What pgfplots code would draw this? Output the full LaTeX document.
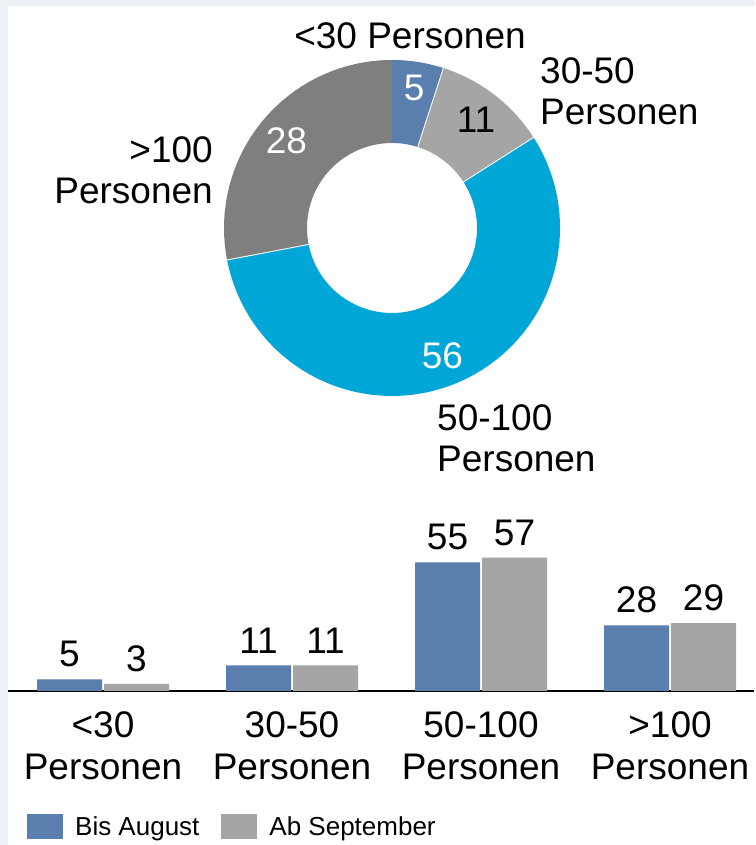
\documentclass[border=0pt]{standalone}
\usepackage{fontspec}
\setmainfont{Liberation Sans}
\usepackage{pgfplots}
\usepackage{pgfplotstable}
\pgfplotsset{compat=1.18}
\definecolor{bgframe}{HTML}{EDF0F5}
\definecolor{cblue}{HTML}{5A7FAE}
\definecolor{cgray}{HTML}{A5A5A5}
\definecolor{ccyan}{HTML}{00A6D6}
\definecolor{cdgray}{HTML}{7F7F7F}
\tikzset{
  big/.style={font=\fontsize{37}{41}\selectfont, inner sep=0pt},
}
\pgfplotstableread{
cat value col txt rad
1 5 cblue white 142
2 11 cgray black 137
3 56 ccyan white 137
4 28 cdgray white 137
}\donutdata
\pgfplotstableread{
x aug sep
0 5 3
1 11 11
2 55 57
3 28 29
}\bardata
\begin{document}
\begin{tikzpicture}[x=1pt,y=1pt]
\fill[bgframe] (0pt,0pt) rectangle (755pt,845pt);
\fill[white] (8pt,0pt) rectangle (755pt,839pt);
% ---------- donut ----------
\begin{axis}[
  x=1pt, y=1pt, hide axis, clip=false,
  xmin=-392, xmax=363, ymin=-617, ymax=228,
  at={(392pt,617pt)}, anchor=origin,
]
\def\cum{0}
\pgfplotsforeachungrouped \i in {0,...,3}{%
  \pgfplotstablegetelem{\i}{value}\of\donutdata \let\v\pgfplotsretval
  \pgfplotstablegetelem{\i}{col}\of\donutdata \let\c\pgfplotsretval
  \pgfplotstablegetelem{\i}{txt}\of\donutdata \let\t\pgfplotsretval
  \pgfplotstablegetelem{\i}{rad}\of\donutdata \let\r\pgfplotsretval
  \pgfmathsetmacro\a{90-3.6*\cum}%
  \pgfmathsetmacro\b{90-3.6*(\cum+\v)}%
  \pgfmathsetmacro\m{(\a+\b)/2}%
  \edef\temp{%
    \noexpand\fill[\c] ([shift={(\a:168pt)}]axis cs:0,0) arc[start angle=\a, end angle=\b, radius=168pt]
      -- ([shift={(\b:85pt)}]axis cs:0,0) arc[start angle=\b, end angle=\a, radius=85pt] -- cycle;
    \noexpand\node[big, text=\t] at ([shift={(\m:\r pt)}]axis cs:0,0) {\v};
  }\temp
  \ifnum\i<3
    \edef\temp{\noexpand\draw[white, line width=2pt] ([shift={(\b:84pt)}]axis cs:0,0) -- ([shift={(\b:169pt)}]axis cs:0,0);}\temp
  \fi
  \pgfmathsetmacro\cum{\cum+\v}%
}
\node[big, anchor=north] at (axis cs:18,206) {<30 Personen};
\node[big, anchor=north west, align=left] at (axis cs:148,171) {30-50\\Personen};
\node[big, anchor=north west, align=left] at (axis cs:45,-176) {50-100\\Personen};
\node[big, anchor=north east, align=right] at (axis cs:-179,92) {>100\\Personen};
\end{axis}
% ---------- bars ----------
\begin{axis}[
  x=189pt, y=2.34pt,
  xmin=-0.5, xmax=3.444, ymin=0, ymax=60,
  at={(103pt,154pt)}, anchor=origin,
  clip=false,
  ybar=2pt, bar width=65pt,
  axis x line=bottom, axis y line=none,
  axis line style={-, line width=2pt, black},
  every outer x axis line/.append style={-},
  xtick=data, xtick style={draw=none},
  xticklabels={{<30\\Personen},{30-50\\Personen},{50-100\\Personen},{>100\\Personen}},
  xticklabel style={font=\fontsize{37}{42}\selectfont, align=center, inner sep=0pt, yshift=-18pt},
  nodes near coords,
  /pgf/number format/assume math mode=true,
  every node near coord/.append style={font=\fontsize{37}{40}\selectfont, inner sep=0pt, yshift=12pt, text=black},
  legend columns=2,
  legend style={at={(axis description cs:0.0248,-0.9651)}, anchor=west, draw=none, fill=none, inner sep=0pt,
    font=\fontsize{26}{30}\selectfont,
    nodes={inner sep=0pt},
    /tikz/every odd column/.append style={column sep=12pt},
    /tikz/every even column/.append style={column sep=22pt}},
  legend image code/.code={\fill[#1] (0pt,-12.5pt) rectangle (36pt,12.5pt);},
]
\addplot[fill=cblue, draw=none] table[x=x, y=aug] {\bardata};
\addplot[fill=cgray, draw=none] table[x=x, y=sep] {\bardata};
\legend{Bis August, Ab September}
\end{axis}
\pgfresetboundingbox
\path[use as bounding box] (0pt,0pt) rectangle (755pt,845pt);
\end{tikzpicture}
\end{document}
